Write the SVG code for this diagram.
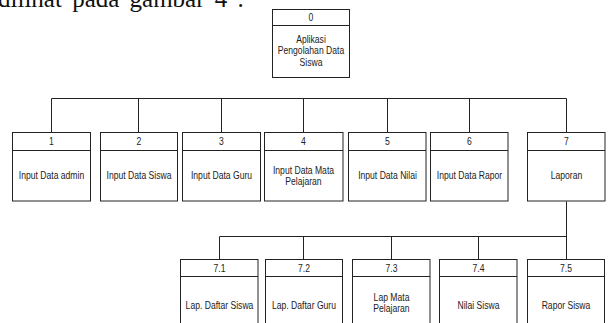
<svg xmlns="http://www.w3.org/2000/svg" width="609" height="323" viewBox="0 0 609 323">
<style>
.box{fill:#fff;stroke:#222;stroke-width:1}
.ln{fill:none;stroke:#222;stroke-width:1}
.t{font-family:"Liberation Sans",Arial,sans-serif;font-size:10px;fill:#222;text-anchor:middle}
.doc{font-family:"Liberation Serif","Times New Roman",serif;font-size:25px;fill:#111;word-spacing:4px}
</style>
<rect width="609" height="323" fill="#fff"/>
<text class="doc" x="-2" y="7">dilihat pada gambar 4 .</text>
<g id="connectors">
<path class="ln" d="M51.5 98.5H566.5M51.5 98.5V132.5M138.5 98.5V132.5M221.5 98.5V132.5M303.5 98.5V132.5M387.5 98.5V132.5M469.5 98.5V132.5M566.5 98.5V132.5"/>
<path class="ln" d="M566.5 201.5V259.5M219.5 236.5H566.5M219.5 236.5V259.5M303.5 236.5V259.5M391.5 236.5V259.5M478.5 236.5V259.5"/>
</g>
<g id="n0"><rect class="box" x="272.5" y="9.5" width="77" height="68"/><path class="ln" d="M272.5 25.5H349.5"/>
<text class="t" transform="translate(311 20.5) scale(0.86 1)">0</text>
<text class="t" transform="translate(311 42.5) scale(0.86 1)">Aplikasi</text>
<text class="t" transform="translate(311 54) scale(0.86 1)">Pengolahan Data</text>
<text class="t" transform="translate(311 65.5) scale(0.86 1)">Siswa</text></g>
<g id="n1"><rect class="box" x="12.5" y="132.5" width="78" height="68.5"/><path class="ln" d="M12.5 150.5H90.5"/>
<text class="t" transform="translate(51.5 145) scale(0.86 1)">1</text>
<text class="t" transform="translate(51.5 179) scale(0.86 1)">Input Data admin</text></g>
<g id="n2"><rect class="box" x="100.5" y="132.5" width="77" height="68.5"/><path class="ln" d="M100.5 150.5H177.5"/>
<text class="t" transform="translate(139 145) scale(0.86 1)">2</text>
<text class="t" transform="translate(139 179) scale(0.86 1)">Input Data Siswa</text></g>
<g id="n3"><rect class="box" x="182.5" y="132.5" width="78" height="68.5"/><path class="ln" d="M182.5 150.5H260.5"/>
<text class="t" transform="translate(221.5 145) scale(0.86 1)">3</text>
<text class="t" transform="translate(221.5 179) scale(0.86 1)">Input Data Guru</text></g>
<g id="n4"><rect class="box" x="264.5" y="132.5" width="78.5" height="68.5"/><path class="ln" d="M264.5 150.5H343"/>
<text class="t" transform="translate(303.5 145) scale(0.86 1)">4</text>
<text class="t" transform="translate(303.5 173.5) scale(0.86 1)">Input Data Mata</text>
<text class="t" transform="translate(303.5 184.5) scale(0.86 1)">Pelajaran</text></g>
<g id="n5"><rect class="box" x="348.5" y="132.5" width="77.5" height="68.5"/><path class="ln" d="M348.5 150.5H426"/>
<text class="t" transform="translate(387.5 145) scale(0.86 1)">5</text>
<text class="t" transform="translate(387.5 179) scale(0.86 1)">Input Data Nilai</text></g>
<g id="n6"><rect class="box" x="430.5" y="132.5" width="77.5" height="68.5"/><path class="ln" d="M430.5 150.5H508"/>
<text class="t" transform="translate(469.5 145) scale(0.86 1)">6</text>
<text class="t" transform="translate(469.5 179) scale(0.86 1)">Input Data Rapor</text></g>
<g id="n7"><rect class="box" x="527.5" y="132.5" width="77.5" height="68.5"/><path class="ln" d="M527.5 150.5H605"/>
<text class="t" transform="translate(566.5 145) scale(0.86 1)">7</text>
<text class="t" transform="translate(566.5 179) scale(0.86 1)">Laporan</text></g>
<g id="n7_1"><rect class="box" x="180.5" y="259.5" width="77.5" height="80"/><path class="ln" d="M180.5 276.5H258"/>
<text class="t" transform="translate(219.5 271.5) scale(0.86 1)">7.1</text>
<text class="t" transform="translate(219.5 308.5) scale(0.86 1)">Lap. Daftar Siswa</text></g>
<g id="n7_2"><rect class="box" x="265.5" y="259.5" width="77" height="80"/><path class="ln" d="M265.5 276.5H342.5"/>
<text class="t" transform="translate(304 271.5) scale(0.86 1)">7.2</text>
<text class="t" transform="translate(304 308.5) scale(0.86 1)">Lap. Daftar Guru</text></g>
<g id="n7_3"><rect class="box" x="352.5" y="259.5" width="77.5" height="80"/><path class="ln" d="M352.5 276.5H430"/>
<text class="t" transform="translate(391.5 271.5) scale(0.86 1)">7.3</text>
<text class="t" transform="translate(391.5 301) scale(0.86 1)">Lap Mata</text>
<text class="t" transform="translate(391.5 312) scale(0.86 1)">Pelajaran</text></g>
<g id="n7_4"><rect class="box" x="439.5" y="259.5" width="77.5" height="80"/><path class="ln" d="M439.5 276.5H517"/>
<text class="t" transform="translate(478.5 271.5) scale(0.86 1)">7.4</text>
<text class="t" transform="translate(478.5 308.5) scale(0.86 1)">Nilai Siswa</text></g>
<g id="n7_5"><rect class="box" x="527.5" y="259.5" width="77" height="80"/><path class="ln" d="M527.5 276.5H604.5"/>
<text class="t" transform="translate(566 271.5) scale(0.86 1)">7.5</text>
<text class="t" transform="translate(566 308.5) scale(0.86 1)">Rapor Siswa</text></g>
</svg>
